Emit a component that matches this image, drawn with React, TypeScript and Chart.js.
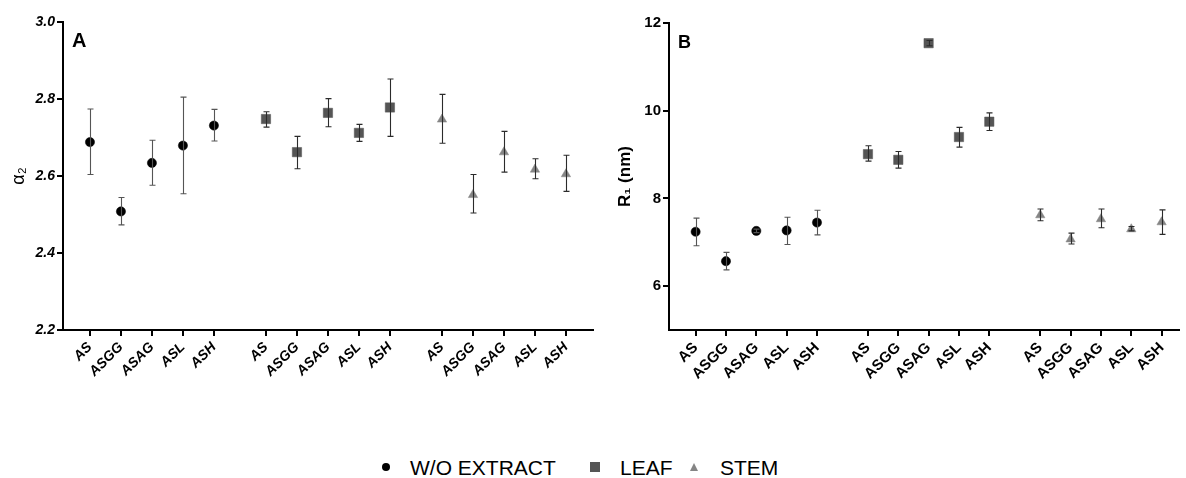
import React, { useEffect, useRef } from 'react';
import { Chart, registerables } from 'chart.js';

Chart.register(...registerables);

// ---- Data ----
const categories = ['AS', 'ASGG', 'ASAG', 'ASL', 'ASH'];
const groups = ['W/O EXTRACT', 'LEAF', 'STEM'];

// Panel A: alpha2
const alphaWo = [2.688, 2.508, 2.634, 2.679, 2.731];
const alphaWoLow = [2.604, 2.473, 2.576, 2.554, 2.691];
const alphaWoHigh = [2.774, 2.544, 2.693, 2.805, 2.773];
const alphaLeaf = [2.748, 2.662, 2.764, 2.712, 2.778];
const alphaLeafLow = [2.727, 2.619, 2.728, 2.69, 2.703];
const alphaLeafHigh = [2.767, 2.703, 2.801, 2.734, 2.852];
const alphaStem = [2.747, 2.551, 2.662, 2.617, 2.605];
const alphaStemLow = [2.685, 2.504, 2.61, 2.593, 2.56];
const alphaStemHigh = [2.812, 2.604, 2.716, 2.645, 2.654];
const alphaTicks = [2.2, 2.4, 2.6, 2.8, 3.0];

// Panel B: R1 (nm)
const rWo = [7.24, 6.57, 7.26, 7.27, 7.45];
const rWoLow = [6.92, 6.37, 7.22, 6.95, 7.17];
const rWoHigh = [7.55, 6.77, 7.3, 7.57, 7.73];
const rLeaf = [9.01, 8.88, 11.54, 9.4, 9.75];
const rLeafLow = [8.85, 8.69, 11.48, 9.17, 9.55];
const rLeafHigh = [9.2, 9.07, 11.6, 9.62, 9.95];
const rStem = [7.62, 7.07, 7.53, 7.3, 7.46];
const rStemLow = [7.49, 6.96, 7.33, 7.26, 7.18];
const rStemHigh = [7.76, 7.21, 7.76, 7.36, 7.74];
const rTicks = [6, 8, 10, 12];

// ---- Styling / layout ----
const FONT = '"Liberation Sans", Arial, Helvetica, sans-serif';
const GROUP_STRIDE = 5.68;
const groupColors = ['#000000', '#555555', '#858585'];
const groupStyles = ['circle', 'rect', 'triangle'];
const groupRadius = [4.6, 6.6, 5.4];
const errColors = ['#555555', '#2b2b2b', '#2b2b2b'];

const xPos = (g: number, i: number) => g * GROUP_STRIDE + i;
const allXPositions = groups.flatMap((_, g) => categories.map((_, i) => xPos(g, i)));

const errorBarPlugin = {
  id: 'errorBars',
  afterDatasetsDraw(chart: any) {
    const ctx = chart.ctx;
    const ys = chart.scales.y;
    chart.data.datasets.forEach((ds: any, di: number) => {
      const meta = chart.getDatasetMeta(di);
      ds.errLow.forEach((lo: number, i: number) => {
        const hi = ds.errHigh[i];
        const el = meta.data[i];
        if (!el) return;
        const x = Math.round(el.x) + 0.5;
        const yl = ys.getPixelForValue(lo);
        const yh = ys.getPixelForValue(hi);
        ctx.save();
        ctx.strokeStyle = errColors[di];
        ctx.lineWidth = 1.1;
        ctx.beginPath();
        ctx.moveTo(x, yl);
        ctx.lineTo(x, yh);
        ctx.moveTo(x - 3, yl);
        ctx.lineTo(x + 3, yl);
        ctx.moveTo(x - 3, yh);
        ctx.lineTo(x + 3, yh);
        ctx.stroke();
        ctx.restore();
      });
    });
  },
};

const panelLetterPlugin = {
  id: 'panelLetter',
  afterDraw(chart: any, _args: any, opts: any) {
    if (!opts || !opts.text) return;
    const ctx = chart.ctx;
    ctx.save();
    ctx.fillStyle = '#000';
    ctx.font = opts.font;
    ctx.textAlign = 'left';
    ctx.textBaseline = 'alphabetic';
    ctx.fillText(opts.text, chart.chartArea.left + opts.dx, chart.chartArea.top + opts.dy);
    ctx.restore();
  },
};

type PanelSpec = {
  series: number[][];
  lows: number[][];
  highs: number[][];
  yMin: number;
  yMax: number;
  yTicks: number[];
  yTickFmt: (v: number) => string;
  xMin: number;
  xMax: number;
  yTitle: string;
  yTitleFont: any;
  yTitlePad: number;
  yTickFont: any;
  xTickFont: any;
  letter: string;
  letterFont: string;
  yWidth: number;
  padRight: number;
  padTop: number;
};

function makeConfig(p: PanelSpec): any {
  return {
    type: 'scatter',
    data: {
      datasets: groups.map((name, g) => ({
        label: name,
        data: p.series[g].map((v, i) => ({ x: xPos(g, i), y: v })),
        errLow: p.lows[g],
        errHigh: p.highs[g],
        pointStyle: groupStyles[g],
        pointRadius: groupRadius[g],
        backgroundColor: groupColors[g],
        borderColor: groupColors[g],
        borderWidth: 0.5,
        showLine: false,
      })),
    },
    options: {
      animation: false,
      responsive: false,
      layout: { padding: { top: p.padTop, right: p.padRight, left: 0, bottom: 0 } },
      plugins: {
        legend: { display: false },
        tooltip: { enabled: false },
        panelLetter: { text: p.letter, font: p.letterFont, dx: 9, dy: 25 },
      },
      scales: {
        x: {
          type: 'linear',
          min: p.xMin,
          max: p.xMax,
          afterBuildTicks: (scale: any) => {
            scale.ticks = allXPositions.map((v) => ({ value: v }));
          },
          afterFit: (scale: any) => {
            scale.height = 70;
          },
          ticks: {
            autoSkip: false,
            minRotation: 45,
            maxRotation: 45,
            padding: 3,
            color: '#000',
            font: p.xTickFont,
            callback: (_v: any, index: number) => categories[index % categories.length],
          },
          grid: { drawOnChartArea: false, drawTicks: true, tickLength: 6, color: '#000', lineWidth: 2 },
          border: { display: true, color: '#000', width: 2 },
        },
        y: {
          type: 'linear',
          min: p.yMin,
          max: p.yMax,
          afterBuildTicks: (scale: any) => {
            scale.ticks = p.yTicks.map((v) => ({ value: v }));
          },
          afterFit: (scale: any) => {
            scale.width = p.yWidth;
          },
          ticks: {
            color: '#000',
            font: p.yTickFont,
            padding: 2,
            callback: (v: any) => p.yTickFmt(Number(v)),
          },
          grid: { drawOnChartArea: false, drawTicks: true, tickLength: 6, color: '#000', lineWidth: 2 },
          border: { display: true, color: '#000', width: 2 },
          title: {
            display: true,
            text: p.yTitle,
            color: '#000',
            font: p.yTitleFont,
            padding: { top: p.yTitlePad, bottom: 0 },
          },
        },
      },
    },
    plugins: [errorBarPlugin, panelLetterPlugin],
  };
}

function Panel({ spec, left, width, height }: { spec: PanelSpec; left: number; width: number; height: number }) {
  const ref = useRef<HTMLCanvasElement | null>(null);
  useEffect(() => {
    if (!ref.current) return;
    const chart = new Chart(ref.current, makeConfig(spec));
    return () => chart.destroy();
  }, []);
  return (
    <div style={{ position: 'absolute', left, top: 0, width, height }}>
      <canvas ref={ref} width={width} height={height} style={{ display: 'block', width, height }} />
    </div>
  );
}

const specA: PanelSpec = {
  series: [alphaWo, alphaLeaf, alphaStem],
  lows: [alphaWoLow, alphaLeafLow, alphaStemLow],
  highs: [alphaWoHigh, alphaLeafHigh, alphaStemHigh],
  yMin: 2.2,
  yMax: 3.0,
  yTicks: alphaTicks,
  yTickFmt: (v) => v.toFixed(1),
  xMin: -0.87,
  xMax: 16.23,
  yTitle: 'α₂',
  yTitleFont: { family: FONT, size: 18, weight: 'normal' },
  yTitlePad: 8,
  yTickFont: { family: FONT, size: 14, weight: 'bold', style: 'italic' },
  xTickFont: { family: FONT, size: 14, weight: 'bold', style: 'italic' },
  letter: 'A',
  letterFont: `bold 20px ${FONT}`,
  yWidth: 63,
  padRight: 7,
  padTop: 22,
};

const specB: PanelSpec = {
  series: [rWo, rLeaf, rStem],
  lows: [rWoLow, rLeafLow, rStemLow],
  highs: [rWoHigh, rLeafHigh, rStemHigh],
  yMin: 5,
  yMax: 12,
  yTicks: rTicks,
  yTickFmt: (v) => String(v),
  xMin: -0.878,
  xMax: 15.93,
  yTitle: 'R₁ (nm)',
  yTitleFont: { family: FONT, size: 17, weight: 'bold' },
  yTitlePad: 15,
  yTickFont: { family: FONT, size: 15, weight: 'bold' },
  xTickFont: { family: FONT, size: 15, weight: 'bold' },
  letter: 'B',
  letterFont: `bold 18px ${FONT}`,
  yWidth: 69,
  padRight: 0,
  padTop: 23,
};

function LegendMarker({ g }: { g: number }) {
  const c = groupColors[g];
  if (groupStyles[g] === 'circle') {
    return <div style={{ width: 8, height: 8, borderRadius: '50%', background: c }} />;
  }
  if (groupStyles[g] === 'rect') {
    return <div style={{ width: 10, height: 10, background: c }} />;
  }
  return (
    <div
      style={{
        width: 0,
        height: 0,
        borderLeft: '4px solid transparent',
        borderRight: '4px solid transparent',
        borderBottom: `8px solid ${c}`,
      }}
    />
  );
}

const legendMarkerLeft = [382, 590, 690];
const legendTextLeft = [410, 620, 720];

export default function App() {
  return (
    <div
      style={{
        position: 'fixed',
        left: 0,
        top: 0,
        width: 1186,
        height: 478,
        background: '#fff',
        overflow: 'hidden',
        fontFamily: FONT,
      }}
    >
      <Panel spec={specA} left={0} width={600} height={400} />
      <Panel spec={specB} left={600} width={586} height={400} />
      {groups.map((name, g) => (
        <React.Fragment key={name}>
          <div style={{ position: 'absolute', left: legendMarkerLeft[g], top: 463 - (g === 1 ? 1 : 0) }}>
            <LegendMarker g={g} />
          </div>
          <div
            style={{
              position: 'absolute',
              left: legendTextLeft[g],
              top: 457,
              fontSize: 21,
              lineHeight: '21px',
              color: '#000',
              whiteSpace: 'nowrap',
            }}
          >
            {name}
          </div>
        </React.Fragment>
      ))}
    </div>
  );
}
